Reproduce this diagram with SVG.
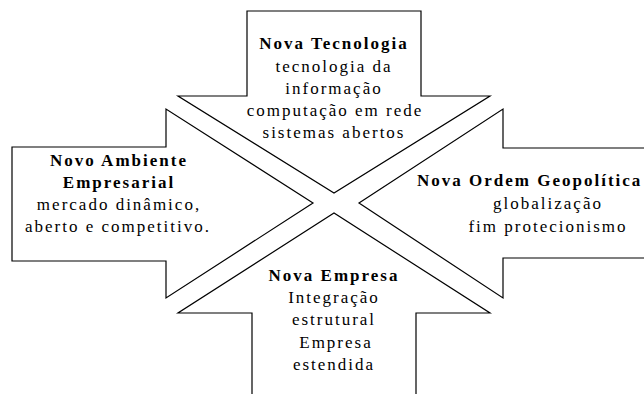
<svg xmlns="http://www.w3.org/2000/svg" width="644" height="394" viewBox="0 0 644 394">
<style>
.shape{fill:#fff;stroke:#000;stroke-width:1.2;stroke-linejoin:miter}
text{font-family:'Liberation Serif','Times New Roman',Tinos,'DejaVu Serif',serif;font-size:17px;letter-spacing:2px;fill:#000}
.b{font-weight:bold}
.c{text-anchor:middle}
</style>
<rect width="644" height="394" fill="#fff"/>
<g id="nova-tecnologia">
<path class="shape" d="M247,11 L421,11 L421,96 L490,96 L334,193 L178,96 L247,96 Z"/>
<text class="b c" x="334" y="49" font-family="Liberation Serif, serif">Nova Tecnologia</text>
<text class="c" x="334" y="72" font-family="Liberation Serif, serif">tecnologia da</text>
<text class="c" x="334" y="94" font-family="Liberation Serif, serif">informação</text>
<text class="c" x="335" y="116" font-family="Liberation Serif, serif">computação em rede</text>
<text class="c" x="334" y="138" font-family="Liberation Serif, serif">sistemas abertos</text>
</g>
<g id="novo-ambiente">
<path class="shape" d="M12,147 L166,147 L166,109 L313,203 L166,298 L166,261 L12,261 Z"/>
<text class="b c" x="119" y="166" font-family="Liberation Serif, serif">Novo Ambiente</text>
<text class="b c" x="119" y="188" font-family="Liberation Serif, serif">Empresarial</text>
<text class="c" x="119" y="210" font-family="Liberation Serif, serif">mercado dinâmico,</text>
<text class="c" x="118" y="232" font-family="Liberation Serif, serif">aberto e competitivo.</text>
</g>
<g id="nova-ordem">
<path class="shape" d="M648,148 L503,148 L503,109 L359,203 L503,298 L503,258 L648,258"/>
<text class="b" x="417" y="186" font-family="Liberation Serif, serif">Nova Ordem Geopolítica</text>
<text class="c" x="548" y="209" font-family="Liberation Serif, serif">globalização</text>
<text class="c" x="548" y="232" font-family="Liberation Serif, serif">fim protecionismo</text>
</g>
<g id="nova-empresa">
<path class="shape" d="M252,398 L252,313 L178,313 L334,213 L490,313 L416,313 L416,398"/>
<text class="b c" x="334" y="281" font-family="Liberation Serif, serif">Nova Empresa</text>
<text class="c" x="334" y="303" font-family="Liberation Serif, serif">Integração</text>
<text class="c" x="334" y="325" font-family="Liberation Serif, serif">estrutural</text>
<text class="c" x="336" y="348" font-family="Liberation Serif, serif">Empresa</text>
<text class="c" x="334" y="370" font-family="Liberation Serif, serif">estendida</text>
</g>
<g id="connectors"></g>
</svg>
